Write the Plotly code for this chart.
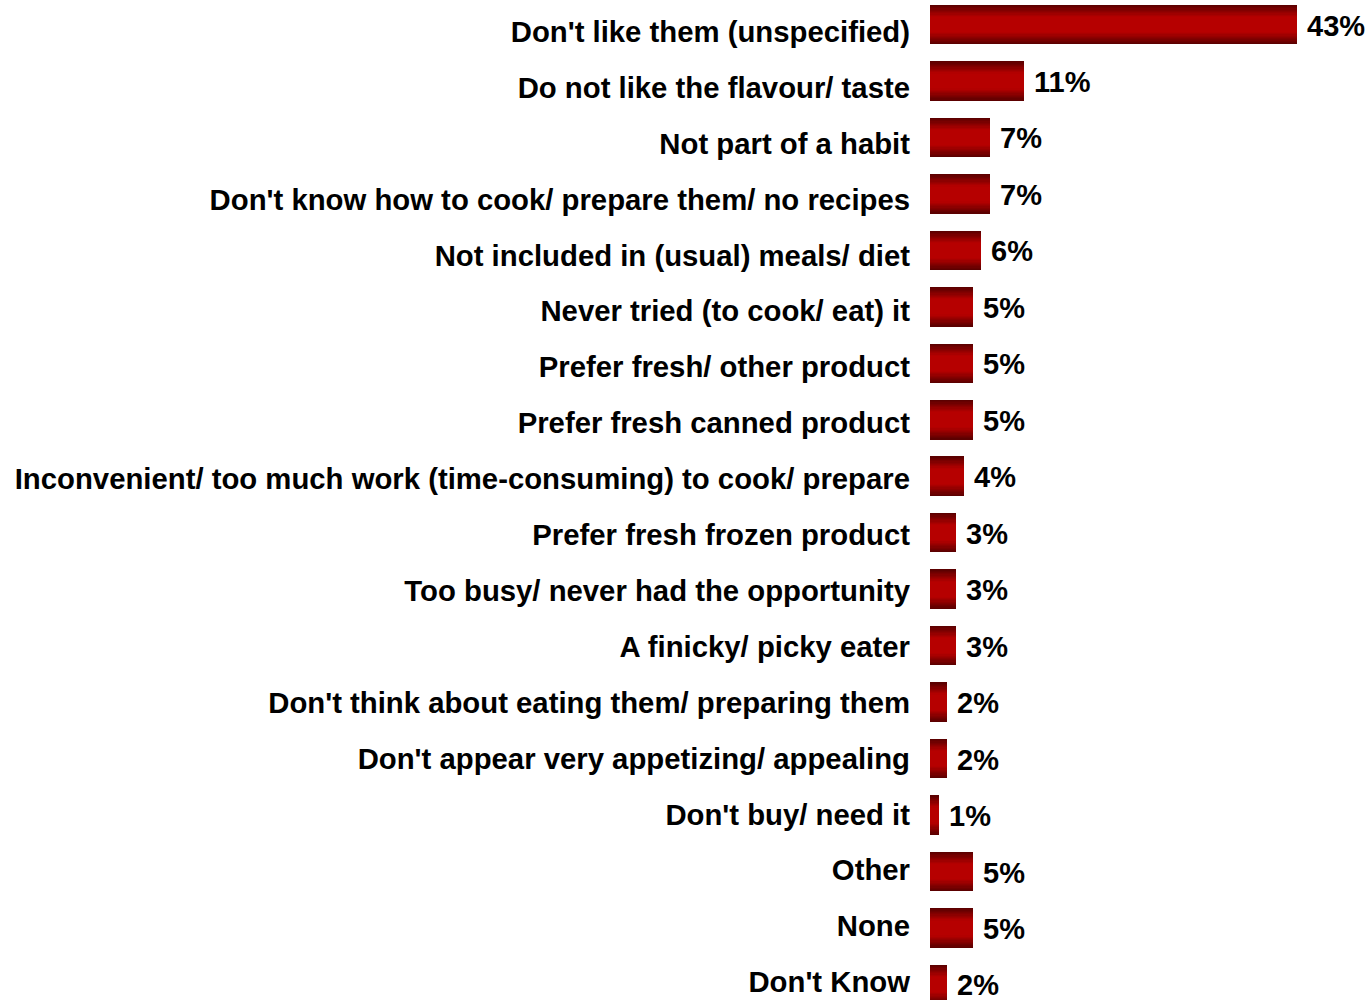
import plotly.graph_objects as go

# Reasons given for not eating the product (share of respondents, %)
reasons = [
    "Don't like them (unspecified)",
    "Do not like the flavour/ taste",
    "Not part of a habit",
    "Don't know how to cook/ prepare them/ no recipes",
    "Not included in (usual) meals/ diet",
    "Never tried (to cook/ eat) it",
    "Prefer fresh/ other product",
    "Prefer fresh canned product",
    "Inconvenient/ too much work (time-consuming) to cook/ prepare",
    "Prefer fresh frozen product",
    "Too busy/ never had the opportunity",
    "A finicky/ picky eater",
    "Don't think about eating them/ preparing them",
    "Don't appear very appetizing/ appealing",
    "Don't buy/ need it",
    "Other",
    "None",
    "Don't Know",
]
shares = [43, 11, 7, 7, 6, 5, 5, 5, 4, 3, 3, 3, 2, 2, 1, 5, 5, 2]
value_labels = [f"{v}%" for v in shares]

positions = list(range(len(reasons)))

FONT = "Liberation Sans, Arial, Helvetica, sans-serif"
BAR_WIDTH = 0.70

fig = go.Figure()

# Vertical shading: stack narrower, brighter bars on top of each other
dark = (92, 0, 0)
bright = (182, 0, 0)
layers = 16
for k in range(layers):
    t = k / (layers - 1)
    ease = min(1.0, t * 1.6)
    r = round(dark[0] + (bright[0] - dark[0]) * ease)
    w = BAR_WIDTH * (1 - k / layers)
    fig.add_trace(go.Bar(
        x=shares,
        y=positions,
        orientation="h",
        width=w,
        marker=dict(color=f"rgb({r},0,0)", line=dict(width=0)),
        hoverinfo="skip",
        showlegend=False,
    ))

# Invisible carrier for the category label axis
fig.add_trace(go.Scatter(
    x=[0] * len(positions), y=positions, yaxis="y2",
    mode="markers", marker=dict(opacity=0),
    hoverinfo="skip", showlegend=False,
))

for v, p, lab in zip(shares, positions, value_labels):
    fig.add_annotation(
        x=v, y=p, text=f"<b>{lab}</b>",
        xanchor="left", yanchor="middle",
        xshift=8, yshift=-1,
        showarrow=False,
        font=dict(family=FONT, size=29, color="#000000"),
    )

fig.update_layout(
    width=1372,
    height=1000,
    barmode="overlay",
    bargap=0,
    margin=dict(l=930, r=0, t=0, b=0),
    paper_bgcolor="white",
    plot_bgcolor="white",
    font=dict(family=FONT, size=29, color="#000000"),
    xaxis=dict(
        range=[0, 51.8],
        visible=False,
        showgrid=False,
        zeroline=False,
    ),
    yaxis=dict(
        range=[17.275, -0.434],
        showticklabels=False,
        showgrid=False,
        zeroline=False,
        showline=False,
        ticks="",
    ),
    yaxis2=dict(
        overlaying="y",
        side="left",
        range=[17.322, -0.567],
        tickmode="array",
        tickvals=positions,
        ticktext=[f"<b>{r}</b>" for r in reasons],
        showgrid=False,
        zeroline=False,
        showline=False,
        ticks="",
        ticklabelstandoff=19,
        ticklabeloverflow="allow",
        tickfont=dict(family=FONT, size=29.3, color="#000000"),
    ),
)

fig.write_html("out.html")
